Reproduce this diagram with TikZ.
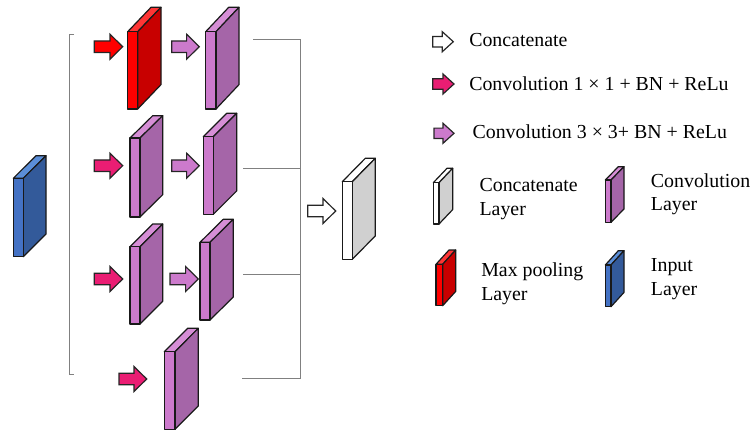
\documentclass[tikz,border=0pt]{standalone}
\usepackage{fontspec}
\setmainfont{Liberation Serif}
\definecolor{redF}{HTML}{FF0000}
\definecolor{redS}{HTML}{C80000}
\definecolor{redT}{HTML}{FF3535}
\definecolor{purF}{HTML}{CC7ACC}
\definecolor{purS}{HTML}{A565A8}
\definecolor{purT}{HTML}{D68ED6}
\definecolor{bluF}{HTML}{4472C4}
\definecolor{bluS}{HTML}{335A9A}
\definecolor{bluT}{HTML}{5B8ED8}
\definecolor{gryF}{HTML}{FFFFFF}
\definecolor{gryS}{HTML}{D0D0D0}
\definecolor{gryT}{HTML}{FFFFFF}
\definecolor{arrRed}{HTML}{FF0000}
\definecolor{arrMag}{HTML}{EA1D73}
\definecolor{arrPur}{HTML}{CC7ACC}
\definecolor{brk}{HTML}{808080}
\tikzset{
  slabline/.style={draw=black!90, line width=0.9pt, line join=round},
  arrline/.style={draw=black!85, line width=0.9pt, line join=miter},
  legtext/.style={inner sep=0pt, anchor=base west, font=\fontsize{14.9pt}{17pt}\selectfont},
  brackline/.style={draw=brk, line width=0.6pt}
}
% #1 name, #2 x1, #3 y1, #4 x2, #5 y2, #6 dx, #7 dy, #8 colour prefix
\newcommand\slab[8]{%
  \coordinate (#1) at ({(#2+#4)/2},{(#3+#5)/2});
  \draw[slabline, fill=#8T] (#2,#3) -- ++(#6,-#7) -- ++(#4-#2,0) -- (#4,#3) -- cycle;
  \draw[slabline, fill=#8S] (#4,#3) -- ++(#6,-#7) -- ++(0,#5-#3) -- (#4,#5) -- cycle;
  \draw[slabline, fill=#8F] (#2,#3) rectangle (#4,#5);
}
% #1 name, #2 x1, #3 x2, #4 yc, #5 fill, #6 shaft half, #7 head half, #8 head length
\newcommand\barrow[8]{%
  \coordinate (#1) at ({(#2+#3)/2},#4);
  \draw[arrline, fill=#5] (#2,#4-#6) -- (#3-#8,#4-#6) -- (#3-#8,#4-#7) -- (#3,#4)
    -- (#3-#8,#4+#7) -- (#3-#8,#4+#6) -- (#2,#4+#6) -- cycle;
}
\begin{document}
\begin{tikzpicture}[x=0.75pt, y=-0.75pt]
\useasboundingbox (0,0) rectangle (751,432);

% brackets
\draw[brackline] (74,34.7) -- (69,34.7) -- (69,374) -- (74,374);
\draw[brackline] (253.3,39) -- (300,39) -- (300,378.3) -- (241.7,378.3);
\draw[brackline] (243.3,168.3) -- (300,168.3);
\draw[brackline] (243.3,274) -- (300,274);

% input
\slab{in}{13.3}{178.3}{23.3}{256.7}{22.7}{22.6}{blu}

% row 1
\barrow{a11}{94.3}{122.7}{46.7}{arrRed}{5.8}{12.5}{12.7}
\slab{b11}{127.7}{31.7}{137.7}{109}{23.3}{24.4}{red}
\barrow{a12}{171.7}{199.3}{46.7}{arrPur}{5.8}{12.5}{12.7}
\slab{b12}{205.7}{31.7}{216}{109}{23}{24.4}{pur}

% row 2
\barrow{a21}{94.3}{122.7}{165.7}{arrMag}{5.8}{12.5}{12.7}
\slab{b21}{130}{138}{140}{217}{22.7}{22.3}{pur}
\barrow{a22}{171.7}{199.3}{165.7}{arrPur}{5.8}{12.5}{12.7}
\slab{b22}{203.3}{136.7}{213.3}{214.3}{23.4}{23.4}{pur}

% row 3
\barrow{a31}{94.3}{122.7}{279}{arrMag}{5.8}{12.5}{12.7}
\slab{b31}{130}{246.7}{140}{324}{22.7}{22.7}{pur}
\barrow{a32}{170}{198.3}{279}{arrPur}{5.8}{12.5}{12.7}
\slab{b32}{200}{242.3}{210}{320}{23.3}{23}{pur}

% row 4
\barrow{a41}{119}{146.7}{379}{arrMag}{5.8}{12.5}{12.7}
\slab{b41}{164.3}{351.7}{175}{429.3}{23.3}{23.4}{pur}

% concatenate
\barrow{ac}{307.7}{335.7}{211}{white}{5.8}{12.5}{12.7}
\slab{cat}{342.3}{181.7}{352.3}{259.3}{23}{23.4}{gry}

% legend arrows
\barrow{l1}{432.7}{453.3}{41.7}{white}{5.2}{10}{11}
\node[legtext] (t1) at (469,46) {Concatenate};
\barrow{l2}{432.7}{454}{84}{arrMag}{5.2}{10}{11}
\node[legtext] (t2) at (469,90.3) {Convolution 1 × 1 + BN + ReLu};
\barrow{l3}{434}{454}{133.3}{arrPur}{5.2}{10}{11}
\node[legtext] (t3) at (472.3,138.7) {Convolution 3 × 3+ BN + ReLu};

% legend boxes
\slab{lc}{433.3}{182.7}{439}{224}{13.7}{14.4}{gry}
\node[legtext] (t4) at (479.3,191.7) {Concatenate};
\node[legtext] (t4b) at (479.3,215) {Layer};
\slab{lv}{605.3}{180}{611}{222.3}{13}{13.3}{pur}
\node[legtext] (t5) at (650.7,187.3) {Convolution};
\node[legtext] (t5b) at (650.7,210.7) {Layer};
\slab{lm}{436}{264.3}{442.7}{305.7}{13}{14.3}{red}
\node[legtext] (t6) at (481,276.7) {Max pooling};
\node[legtext] (t6b) at (481,300) {Layer};
\slab{li}{605.3}{265}{611}{306.7}{13}{14.3}{blu}
\node[legtext] (t7) at (650.7,271.7) {Input};
\node[legtext] (t7b) at (650.7,295) {Layer};
\end{tikzpicture}
\end{document}
